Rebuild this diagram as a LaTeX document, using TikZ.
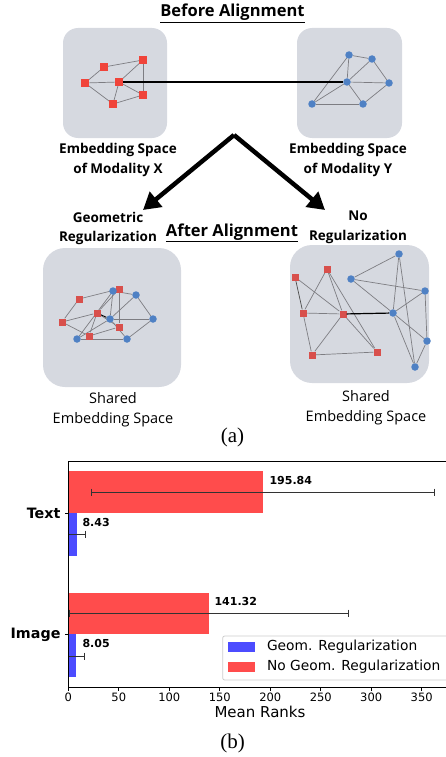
\documentclass[tikz,border=0pt]{standalone}
\usepackage{fontspec}
\setmainfont{Open Sans}
\newfontfamily\dejavu{DejaVu Sans}
\newfontfamily\timesf{Liberation Serif}
\usetikzlibrary{arrows.meta}
\pgfdeclarelayer{bg}
\pgfdeclarelayer{edges}
\pgfsetlayers{bg,edges,main}
\definecolor{boxfill}{RGB}{214,217,224}
\definecolor{redT}{RGB}{240,68,58}
\definecolor{redL}{RGB}{216,80,76}
\definecolor{blueC}{RGB}{79,129,196}
\definecolor{barred}{RGB}{255,76,76}
\definecolor{barblue}{RGB}{76,76,255}
\definecolor{edgegray}{RGB}{125,125,130}
\tikzset{
  spacebox/.style={fill=boxfill, rounded corners=15pt},
  sqT/.style={rectangle, fill=redT, minimum size=7.5pt, inner sep=0pt},
  sqL/.style={rectangle, fill=redL, minimum size=7pt, inner sep=0pt},
  circB/.style={circle, fill=blueC, minimum size=7.5pt, inner sep=0pt},
  gedge/.style={draw=edgegray, line width=0.7pt},
  link/.style={draw=black, line width=1.2pt},
  boldlbl/.style={font=\fontsize{13.5}{19.5}\selectfont\bfseries, align=center},
  normlbl/.style={font=\fontsize{14.5}{19.5}\selectfont, align=center},
  titlelbl/.style={font=\fontsize{16.5}{18}\selectfont\bfseries},
  ticklbl/.style={font=\dejavu\fontsize{11.5}{12}\selectfont},
  vallbl/.style={font=\dejavu\fontsize{11}{12}\selectfont\bfseries, anchor=west},
  catlbl/.style={font=\dejavu\fontsize{14.3}{15}\selectfont\bfseries, anchor=east},
  leglbl/.style={font=\dejavu\fontsize{13.8}{15}\selectfont, anchor=west},
  caplbl/.style={font=\timesf\fontsize{21}{22}\selectfont},
  errbar/.style={draw=black!80, line width=0.8pt},
  bigarrow/.style={draw=black, line width=4.5pt, line join=miter, -{Triangle[length=17pt,width=19pt]}},
}
\begin{document}
\begin{tikzpicture}[x=1pt,y=-1pt]
\useasboundingbox (0,0) rectangle (445,757);

% ---------- Before alignment ----------
\node[titlelbl] (t1) at (232.5,13.5) {\underline{Before Alignment}};
\begin{pgfonlayer}{bg}
\fill[spacebox] (63,28) rectangle (167,138);
\fill[spacebox] (297,28) rectangle (402,138);
\end{pgfonlayer}

% modality X
\node[sqT] (A) at (85,83) {};
\node[sqT] (B) at (104,67) {};
\node[sqT] (C) at (143,60) {};
\node[sqT] (D) at (119,82) {};
\node[sqT] (E) at (143,95) {};
\node[sqT] (F) at (113,104) {};
% modality Y
\node[circB] (P) at (349,55) {};
\node[circB] (Q) at (372,59) {};
\node[circB] (R) at (347,82) {};
\node[circB] (S) at (389,83) {};
\node[circB] (T) at (363,104) {};
\node[circB] (U) at (312,104) {};
\begin{pgfonlayer}{edges}
\foreach \a/\b in {A/B,B/C,A/D,D/C,C/E,D/E,A/F,F/E,D/F}
  \draw[gedge] (\a) -- (\b);
\foreach \a/\b in {P/Q,Q/S,P/R,Q/R,R/S,R/T,S/T,U/R,U/P,U/T}
  \draw[gedge] (\a) -- (\b);
\end{pgfonlayer}
\draw[link] (D) -- (R);

\node[boldlbl] (lx) at (118,160) {Embedding Space\\of Modality X};
\node[boldlbl] (ly) at (348,160) {Embedding Space\\of Modality Y};

% arrows
\coordinate (apex) at (234,135);
\coordinate (aL) at (143,210);
\coordinate (aR) at (325,210);
\draw[bigarrow] (apex) -- (aL);
\draw[bigarrow] (apex) -- (aR);

% ---------- After alignment ----------
\node[boldlbl] (lg) at (108,228.5) {Geometric\\Regularization};
\node[boldlbl] (ln) at (358,227.5) {No\\Regularization};
\node[titlelbl] (t2) at (232,233) {\underline{After Alignment}};

\begin{pgfonlayer}{bg}
\fill[spacebox, rounded corners=22pt] (43,248) rectangle (181,387);
\fill[spacebox, rounded corners=22pt] (290,245) rectangle (429,383);
\end{pgfonlayer}

% lower-left: geometric regularization
\node[sqL] (s1) at (79,299) {};
\node[sqL] (s2) at (119,289) {};
\node[sqL] (s3) at (97,313) {};
\node[sqL] (s4) at (62,322) {};
\node[sqL] (s5) at (119,327) {};
\node[sqL] (s6) at (89,336) {};
\node[circB] (c1) at (113,291) {};
\node[circB] (c2) at (136,295) {};
\node[circB] (c3) at (110,319) {};
\node[circB] (c4) at (153,319) {};
\node[circB] (c5) at (77,339) {};
\node[circB] (c6) at (127,339) {};
\begin{pgfonlayer}{edges}
\foreach \a/\b in {s4/s1,s1/s2,s2/s3,s2/s5,s3/s5,s4/s3,s4/s6,s6/s5,s3/s6}
  \draw[gedge] (\a) -- (\b);
\foreach \a/\b in {c1/c2,c2/c4,c1/c3,c2/c3,c3/c4,c3/c6,c4/c6,c5/c3,c5/c1,c5/c6}
  \draw[gedge] (\a) -- (\b);
\draw[draw=black, line width=0.9pt] (s3) -- (c3);
\end{pgfonlayer}

% lower-right: no regularization
\node[sqL] (r1) at (295,277) {};
\node[sqL] (r2) at (327,269) {};
\node[sqL] (r3) at (303,313) {};
\node[sqL] (r4) at (343,314) {};
\node[sqL] (r5) at (377,352) {};
\node[sqL] (r6) at (312,355) {};
\node[circB] (b1) at (399,254) {};
\node[circB] (b2) at (351,279) {};
\node[circB] (b3) at (425,291) {};
\node[circB] (b4) at (393,313) {};
\node[circB] (b5) at (427,341) {};
\node[circB] (b6) at (415,367) {};
\begin{pgfonlayer}{edges}
\foreach \a/\b in {r1/r4,r2/r3,r2/r4,r2/r5,r3/r4,r3/r6,r4/r6,r4/r5,r6/r5}
  \draw[gedge] (\a) -- (\b);
\draw[gedge, draw=black!70] (r1) -- (r3);
\foreach \a/\b in {b1/b2,b1/b4,b1/b6,b2/b3,b2/b4,b3/b4,b3/b5,b4/b5,b4/b6,b5/b6}
  \draw[gedge] (\a) -- (\b);
\end{pgfonlayer}
\draw[link] (r4) -- (b4);

\node[normlbl] (sl) at (113,409.5) {Shared\\Embedding Space};
\node[normlbl] (sr) at (366,407.5) {Shared\\Embedding Space};
\node[caplbl] (capa) at (232.5,437) {(a)};

% ---------- Bar chart ----------
% bars
\fill[barred] (68.3,471) rectangle (262.7,513);
\fill[barblue] (68.3,513) rectangle (76.8,556);
\fill[barred] (68.3,593) rectangle (208.9,634);
\fill[barblue] (68.3,634) rectangle (76.4,677);
% error bars
\draw[errbar] (91.7,492) -- (434.3,492);
\draw[errbar] (91.7,488.5) -- (91.7,495.5);
\draw[errbar] (434.3,488.5) -- (434.3,495.5);
\draw[errbar] (68.3,534) -- (85.3,534);
\draw[errbar] (85.3,530.5) -- (85.3,537.5);
\draw[errbar] (69.3,613) -- (348.3,613);
\draw[errbar] (69.3,609.5) -- (69.3,616.5);
\draw[errbar] (348.3,609.5) -- (348.3,616.5);
\draw[errbar] (68.3,656) -- (84.3,656);
\draw[errbar] (84.3,652.5) -- (84.3,659.5);
% axes
\draw[line width=0.8pt] (450,461) -- (68.3,461) -- (68.3,687) -- (450,687);
\foreach \v in {0,50,...,350}{
  \draw[line width=0.8pt] ({68.3+\v*1.0097},687) -- ({68.3+\v*1.0097},690.5);
  \node[ticklbl] at ({68.3+\v*1.0097},697) {\v};
}
\draw[line width=0.8pt] (68.3,513) -- (64.8,513);
\draw[line width=0.8pt] (68.3,634) -- (64.8,634);
\node[font=\dejavu\fontsize{15}{16}\selectfont] (xl) at (260,712) {Mean Ranks};
% labels
\node[vallbl] (v1) at (266,480) {195.84};
\node[vallbl] (v2) at (79,522) {8.43};
\node[vallbl] (v3) at (211,601) {141.32};
\node[vallbl] (v4) at (79,643) {8.05};
\node[catlbl] (cT) at (64,513) {Text};
\node[catlbl] (cI) at (64,635) {Image};
% legend
\draw[draw=black!20, fill=white, rounded corners=2pt, line width=0.8pt] (222.7,636) rectangle (452,680);
\fill[barblue] (227.7,642) rectangle (255.3,652);
\fill[barred] (227.7,662) rectangle (255.3,672);
\node[leglbl] (g1) at (263.5,647) {Geom. Regularization};
\node[leglbl] (g2) at (263.5,667) {No Geom. Regularization};
\node[caplbl] (capb) at (232.5,743) {(b)};
\end{tikzpicture}
\end{document}
